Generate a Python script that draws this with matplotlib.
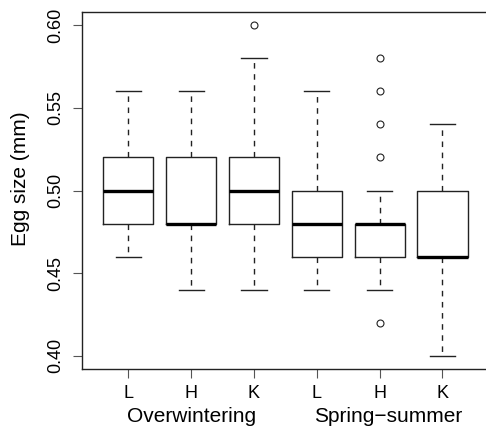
import matplotlib
matplotlib.use("Agg")
import matplotlib.pyplot as plt

# five-number summaries
labels = ["L", "H", "K", "L", "H", "K"]
groups = ["Overwintering", "Spring\u2212summer"]
whislo = [0.46, 0.44, 0.44, 0.44, 0.44, 0.40]
q1 = [0.48, 0.48, 0.48, 0.46, 0.46, 0.46]
med = [0.50, 0.48, 0.50, 0.48, 0.48, 0.46]
q3 = [0.52, 0.52, 0.52, 0.50, 0.48, 0.50]
whishi = [0.56, 0.56, 0.58, 0.56, 0.50, 0.54]
fliers = [[], [], [0.60], [], [0.58, 0.56, 0.54, 0.52, 0.42], []]

plt.rcParams['font.family'] = ['Liberation Sans', 'DejaVu Sans']

fig = plt.figure(figsize=(4.86, 4.33), dpi=100)
W, H = 486, 433
ax = fig.add_axes([81.8 / W, 1 - 369 / H, (489 - 81.8) / W, (369 - 12) / H])

stats = []
for i in range(len(labels)):
    stats.append(dict(med=med[i], q1=q1[i], q3=q3[i], whislo=whislo[i],
                      whishi=whishi[i], fliers=fliers[i], label=labels[i]))

ln = "#222222"
ax.bxp(stats, positions=range(1, 7), widths=0.8, patch_artist=False,
       boxprops=dict(color=ln, lw=1.0),
       medianprops=dict(color="black", lw=2.4, solid_capstyle="butt"),
       whiskerprops=dict(color=ln, lw=1.0, linestyle=(0, (4, 4))),
       capprops=dict(color=ln, lw=1.0),
       capwidths=0.4,
       flierprops=dict(marker="o", markerfacecolor="none",
                       markeredgecolor=ln, markersize=5, markeredgewidth=0.8))

ax.set_xlim(0.26, 6.74)
ax.set_ylim(0.392, 0.608)
ax.set_yticks([0.40, 0.45, 0.50, 0.55, 0.60])
ax.set_yticklabels(["0.40", "0.45", "0.50", "0.55", "0.60"], rotation=90, va="center")
ax.set_xticks(range(1, 7))
ax.set_xticklabels(labels)
ax.tick_params(axis="both", length=6.5, width=0.8, color="#555555", labelsize=13, pad=5)
ax.tick_params(axis="y", pad=6)
for s in ax.spines.values():
    s.set_linewidth(1.0)
    s.set_color(ln)

fig.text(20 / W, 1 - 179 / H, "Egg size (mm)", rotation=90,
         ha="center", va="center", fontsize=15)

# group labels under the tick labels (x in data units, y in figure coords)
trans = matplotlib.transforms.blended_transform_factory(ax.transData, fig.transFigure)
for pos, g in zip([2, 5.13], groups):
    ax.text(pos, 1 - 417 / H, g, transform=trans,
            ha="center", va="center", fontsize=15)

fig.savefig("out.png", dpi=100)
